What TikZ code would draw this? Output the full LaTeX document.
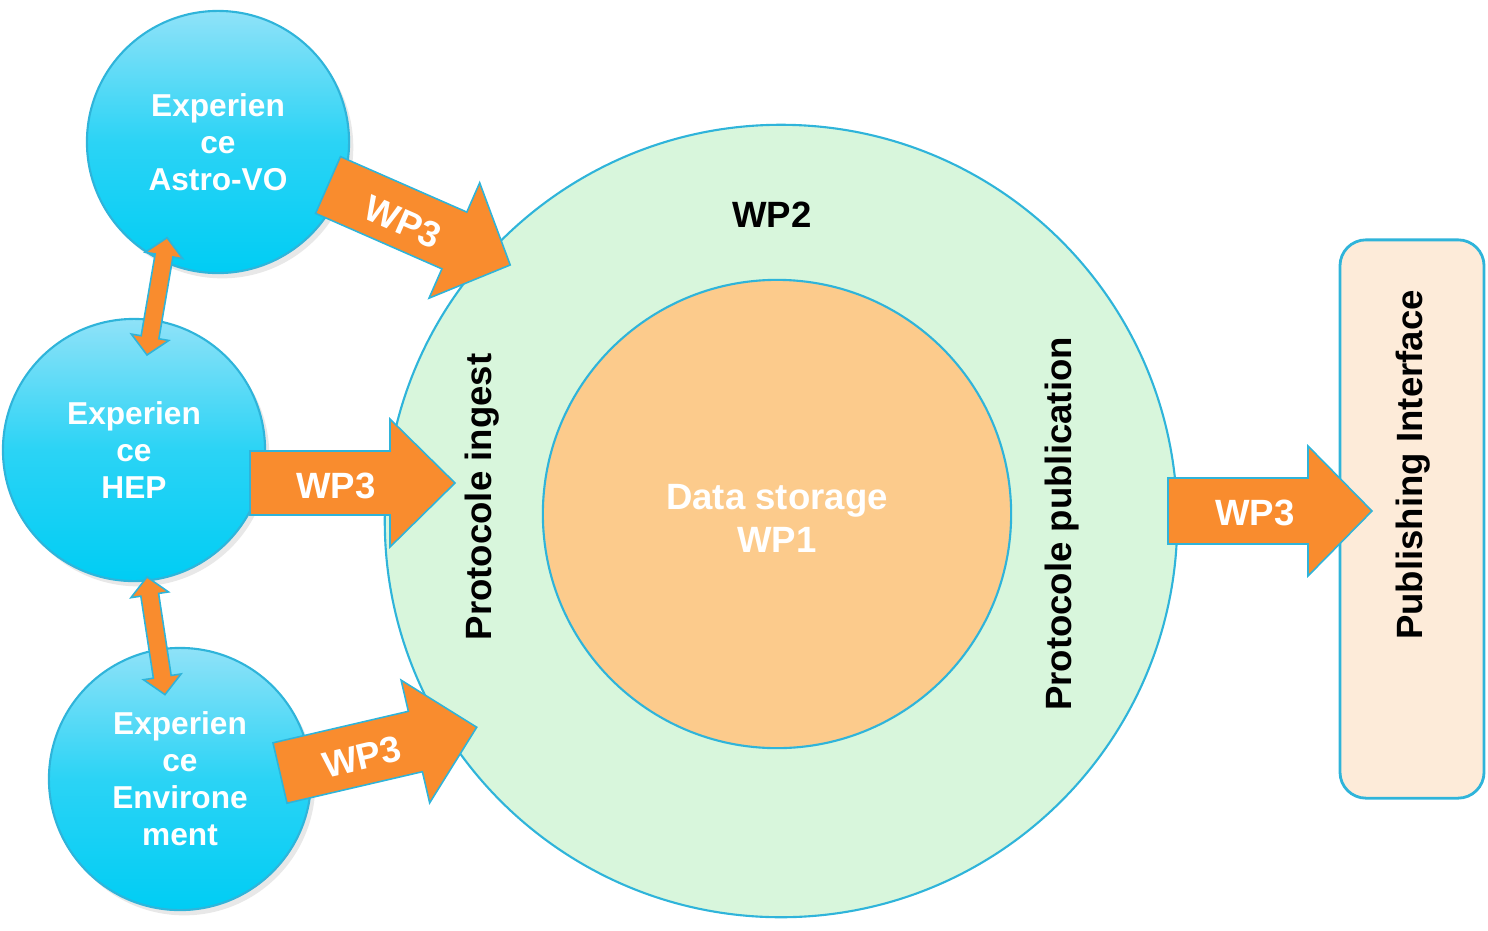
\documentclass[tikz,border=0pt]{standalone}
\usepackage{fontspec}
\setmainfont{Liberation Sans}
\usetikzlibrary{shadows}
\definecolor{bluetop}{HTML}{8FE2F8}
\definecolor{bluebot}{HTML}{00CDF4}
\definecolor{edgecyan}{HTML}{2FB4DA}
\definecolor{greenfill}{HTML}{D8F6DC}
\definecolor{innerfill}{HTML}{FCCB8C}
\definecolor{arroworange}{HTML}{F98C2E}
\definecolor{pubfill}{HTML}{FDEBD9}
\tikzset{
  bluecirc/.style={circle, minimum size=2.62cm, inner sep=0pt, draw=edgecyan, line width=0.6pt,
    top color=bluetop, bottom color=bluebot, middle color=bluebot!70!bluetop,
    drop shadow={shadow xshift=1.2pt, shadow yshift=-1.5pt, opacity=0.18},
    text=white, align=center, font=\bfseries\fontsize{9}{10.5}\selectfont},
  bigcirc/.style={circle, inner sep=0pt, draw=edgecyan, line width=0.6pt},
  arrowstyle/.style={fill=arroworange, draw=edgecyan, line width=0.45pt, line join=miter},
  wplabel/.style={text=white, font=\bfseries\fontsize{10.4}{12}\selectfont, inner sep=0pt},
  blacklabel/.style={text=black, font=\bfseries\fontsize{10.4}{12}\selectfont, inner sep=0pt},
}
% #1 start, #2 angle, #3 length, #4 shaft half width, #5 head half width, #6 head length
\newcommand\BlockArr[6]{%
  \begin{scope}[shift={#1}, rotate=#2]
    \draw[arrowstyle] (0,-#4) -- ({#3-#6},-#4) -- ({#3-#6},-#5) -- (#3,0) -- ({#3-#6},#5) -- ({#3-#6},#4) -- (0,#4) -- cycle;
  \end{scope}}
% double-headed
\newcommand\DoubleArr[6]{%
  \begin{scope}[shift={#1}, rotate=#2]
    \draw[arrowstyle] (0,0) -- (#6,-#5) -- (#6,-#4) -- ({#3-#6},-#4) -- ({#3-#6},-#5) -- (#3,0) -- ({#3-#6},#5) -- ({#3-#6},#4) -- (#6,#4) -- (#6,#5) -- cycle;
  \end{scope}}
\begin{document}
\begin{tikzpicture}[x=0.01cm, y=-0.01cm]
\useasboundingbox (0,0) rectangle (1488,930);

% big circles
\node[bigcirc, fill=greenfill, minimum size=7.92cm] (wp2) at (781,521) {};
\node[bigcirc, fill=innerfill, minimum size=4.68cm] (wp1) at (777,514) {};

% publishing interface
\node[draw=edgecyan, line width=0.8pt, fill=pubfill, rounded corners=0.26cm,
      minimum width=1.44cm, minimum height=5.58cm, inner sep=0pt] (pub) at (1412,519) {};
\node[blacklabel, rotate=90] (pubtxt) at (1413,465) {Publishing Interface};

% experience circles
\node[bluecirc] (astro) at (218,142) {Experien\\ce\\Astro-VO};
\node[bluecirc] (hep) at (134,450) {Experien\\ce\\HEP};
\node[bluecirc] (env) at (180,779) {Experien\\ce\\Environe\\ment};

% texts in big circle
\node[blacklabel] (wp2txt) at (772,215) {WP2};
\node[wplabel, align=center, font=\bfseries\fontsize{10.4}{12.2}\selectfont] (wp1txt) at (777,518) {Data storage\\WP1};
\node[blacklabel, rotate=90] (ingest) at (482,497) {Protocole ingest};
\node[blacklabel, rotate=90] (publi) at (1062,524) {Protocole publication};

% WP3 block arrows
\BlockArr{(328,185)}{-23.7}{199}{31}{63}{61}
\node[wplabel, rotate=-23.7] (wp3a) at (403,222) {WP3};
\BlockArr{(250,483)}{0}{205}{32}{64}{65}
\node[wplabel] (wp3b) at (336,486) {WP3};
\BlockArr{(280,773)}{13.1}{202}{31}{63}{63}
\node[wplabel, rotate=13.1] (wp3c) at (362,757) {WP3};
\BlockArr{(1168,511)}{0}{204}{33}{65}{64}
\node[wplabel] (wp3d) at (1255,513) {WP3};

% double arrows between experiences
\DoubleArr{(147,355)}{80.3}{119}{9}{19}{18}
\DoubleArr{(147,577)}{-81.3}{119}{9}{19}{18}
\end{tikzpicture}
\end{document}
